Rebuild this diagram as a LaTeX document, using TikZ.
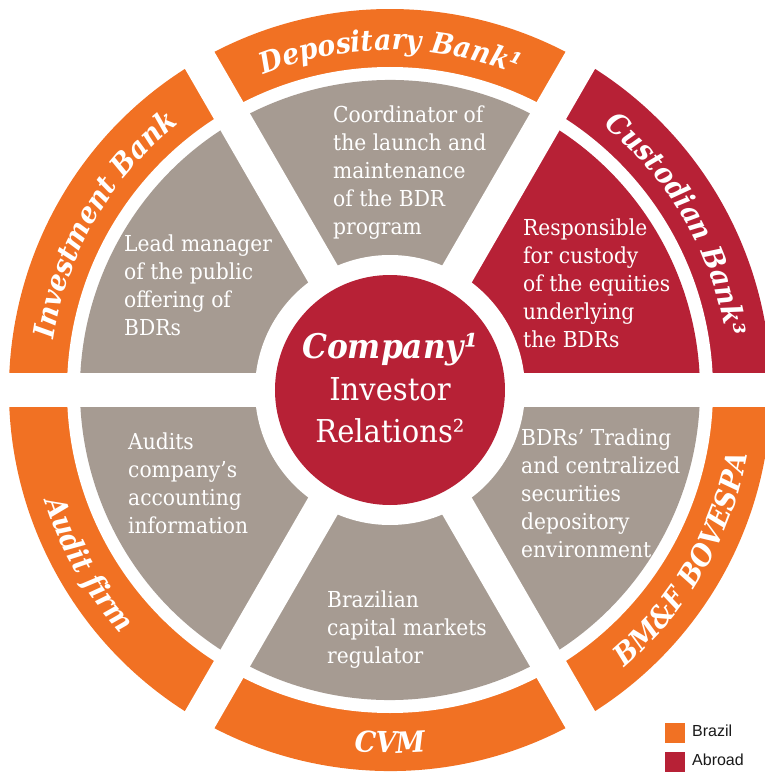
\documentclass[tikz,border=0pt]{standalone}
\usepackage{fontspec}
\setmainfont{DejaVu Serif}[FakeStretch=0.92]
\newfontfamily\legendfont{Liberation Sans}
\usetikzlibrary{decorations.text}

\definecolor{brorange}{RGB}{241,113,35}
\definecolor{abred}{RGB}{183,33,54}
\definecolor{taupe}{RGB}{166,155,146}
\definecolor{legendink}{RGB}{25,25,25}

% left-aligned and centred stacks whose baseline is the first line
\newcommand\txtblock[1]{\vtop{\halign{##\hfil\cr#1\crcr}}}
\newcommand\ctrblock[1]{\vtop{\halign{\hfil##\hfil\cr#1\crcr}}}
\newcommand\bandstyle{\bfseries\itshape\fontsize{29pt}{29pt}\selectfont}

\tikzset{
  body/.style={anchor=base west, inner sep=0pt, text=white,
    font=\fontsize{22pt}{28pt}\selectfont},
  bandlabel/.style={decorate, decoration={text along path, text color=white,
    text align=center, text={|\bandstyle|#1}}},
  swatch/.style={inner sep=0pt, minimum size=20pt, draw=none},
  legendtext/.style={anchor=base west, inner sep=0pt, text=legendink,
    font=\legendfont\fontsize{16pt}{16pt}\selectfont},
}

\begin{document}
\begin{tikzpicture}[x=1pt,y=1pt]
  \useasboundingbox (-390,-382) rectangle (375,390);
  \clip (-390,-382) rectangle (375,390);

  % outer ring of role bands
  \fill[brorange] (0,0) -- (60:381) arc[start angle=60, end angle=120, radius=381] -- cycle;
  \fill[abred]    (0,0) -- (0:381) arc[start angle=0, end angle=60, radius=381] -- cycle;
  \fill[brorange] (0,0) -- (120:381) arc[start angle=120, end angle=360, radius=381] -- cycle;
  \fill[white] (0,0) circle (323);

  % inner description sectors
  \fill[taupe] (0,0) -- (60:310) arc[start angle=60, end angle=360, radius=310] -- cycle;
  \fill[abred] (0,0) -- (0:310) arc[start angle=0, end angle=60, radius=310] -- cycle;
  \fill[white] (0,0) circle (135);

  % white spokes separating the six sectors
  \draw[white, line width=34pt] (180:420) -- (0:420);
  \draw[white, line width=34pt] (240:420) -- (60:420);
  \draw[white, line width=34pt] (300:420) -- (120:420);

  % central company disc
  \fill[abred] (0,0) circle (115);
  \node[anchor=base, inner sep=0pt, text=white,
        font=\fontsize{31.5pt}{42pt}\selectfont] (company) at (0,32)
    {\ctrblock{{\fontsize{34pt}{42pt}\selectfont\bfseries\itshape Company¹}\cr Investor\cr Relations²}};

  % band labels
  \path[bandlabel={Depositary Bank¹}] (120:340) arc[start angle=120, end angle=60, radius=340];
  \path[bandlabel={Custodian Bank³}] (60:340) arc[start angle=60, end angle=0, radius=340];
  \path[bandlabel={Investment Bank}] (180:340) arc[start angle=180, end angle=120, radius=340];
  \path[bandlabel={BM{\&}F BOVESPA}] (300:363) arc[start angle=300, end angle=360, radius=363];
  \path[bandlabel={CVM}] (240:363) arc[start angle=240, end angle=300, radius=363];
  \path[bandlabel={Audit firm}] (180:363) arc[start angle=180, end angle=240, radius=363];

  % sector descriptions
  \node[body] (depdesc) at (-57,267.3)
    {\txtblock{Coordinator of\cr the launch and\cr maintenance\cr of the BDR\cr program}};
  \node[body] (invdesc) at (-266,138.3)
    {\txtblock{Lead manager\cr of the public\cr offering of\cr BDRs}};
  \node[body] (cusdesc) at (133,155)
    {\txtblock{Responsible\cr for custody\cr of the equities\cr underlying\cr the BDRs}};
  \node[body] (auddesc) at (-262,-59.5)
    {\txtblock{Audits\cr company’s\cr accounting\cr information}};
  \node[body] (bovdesc) at (131,-55)
    {\txtblock{BDRs’ Trading\cr and centralized\cr securities\cr depository\cr environment}};
  \node[body] (cvmdesc) at (-63,-217)
    {\txtblock{Brazilian\cr capital markets\cr regulator}};

  % legend
  \node[swatch, fill=brorange] (brsw) at (285,-343) {};
  \node[swatch, fill=abred] (absw) at (285,-372) {};
  \node[legendtext] (brlab) at (302,-346.7) {Brazil};
  \node[legendtext] (ablab) at (302,-375.7) {Abroad};
\end{tikzpicture}
\end{document}
